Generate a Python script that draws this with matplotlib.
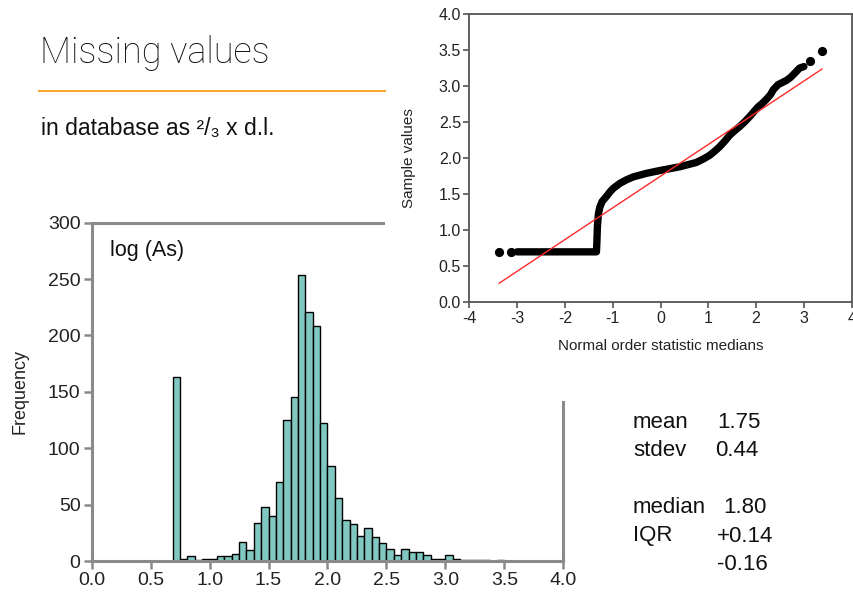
import numpy as np
import matplotlib
matplotlib.use("Agg")
import matplotlib.pyplot as plt
from matplotlib.lines import Line2D
from matplotlib.patches import Rectangle

plt.rcParams['font.family'] = ['Liberation Sans', 'DejaVu Sans']
plt.rcParams['axes.unicode_minus'] = False

# histogram of log(As): bins of 1/16 starting at 0.6875
bin_start = 0.6875
bin_width = 0.0625
counts = [163, 2, 4, 1, 2, 2, 4, 4, 6, 17, 10, 34, 48, 40, 70, 125, 145,
          254, 221, 208, 122, 84, 56, 36, 33, 22, 29, 21, 16, 11, 5, 11,
          8, 8, 5, 2, 2, 5, 2, 1, 1, 1, 1, 0, 1]
hist_xticks = [0.0, 0.5, 1.0, 1.5, 2.0, 2.5, 3.0, 3.5, 4.0]
hist_yticks = [0, 50, 100, 150, 200, 250, 300]

# normal QQ plot
qq_band_x = [-3.0, -1.34, -1.33, -1.32, -1.30, -1.27, -1.22, -1.13, -1.06,
             -0.99, -0.85, -0.71, -0.57, -0.29, 0.0, 0.4, 0.75, 0.9, 1.03,
             1.14, 1.24, 1.35, 1.45, 1.55, 1.66, 1.77, 1.87, 1.96, 2.04,
             2.13, 2.22, 2.3, 2.36, 2.46, 2.55, 2.64, 2.72, 2.81, 2.91, 3.0]
qq_band_y = [0.70, 0.70, 0.85, 1.05, 1.22, 1.32, 1.40, 1.47, 1.53,
             1.58, 1.65, 1.70, 1.74, 1.79, 1.83, 1.88, 1.94, 1.99, 2.04,
             2.10, 2.16, 2.24, 2.32, 2.38, 2.44, 2.51, 2.58, 2.65, 2.71,
             2.76, 2.82, 2.88, 2.95, 3.02, 3.05, 3.08, 3.12, 3.18, 3.25, 3.27]
qq_tail_x = [-3.375, -3.12, 3.12, 3.38]
qq_tail_y = [0.70, 0.70, 3.35, 3.48]
qq_xticks = [-4, -3, -2, -1, 0, 1, 2, 3, 4]
qq_yticks = [0.0, 0.5, 1.0, 1.5, 2.0, 2.5, 3.0, 3.5, 4.0]

mean_val = 1.75
stdev_val = 0.44
stat_labels = ['mean', 'stdev', 'median', 'IQR', '']
stat_values = ['1.75', '0.44', '1.80', '+0.14', '-0.16']

W, H = 854, 592
fig = plt.figure(figsize=(W / 100, H / 100), dpi=100)


def box(left, top, right, bottom):
    """pixel box -> figure fraction rect"""
    return [left / W, 1 - bottom / H, (right - left) / W, (bottom - top) / H]


def px(x, y):
    return x / W, 1 - y / H


# title block
fig.text(*px(40, 63), 'Missing values', fontsize=26, family=['Roboto', 'Liberation Sans'],
         fontweight='light', va='baseline', color='#111111')
fig.add_artist(Line2D([39 / W, 385 / W], [1 - 91 / H] * 2, color='#f5a623', lw=1.4))
fig.text(*px(41, 135), 'in database as \u00b2/\u2083 x d.l.', fontsize=16.5,
         va='baseline', color='#111111')

# histogram
ax = fig.add_axes(box(91.7, 222.7, 563.3, 561))
edges = bin_start + bin_width * np.arange(len(counts))
ax.bar(edges, counts, width=bin_width, align='edge', color='#80c8c1',
       edgecolor='black', linewidth=1.0, zorder=2)
ax.set_xlim(0, 4)
ax.set_ylim(0, 300)
ax.set_xticks(hist_xticks)
ax.set_xticklabels([f'{t:.1f}' for t in hist_xticks])
ax.set_yticks(hist_yticks)
for s in ax.spines.values():
    s.set_color('#8a8a8a')
    s.set_linewidth(2.2)
ax.tick_params(direction='out', length=6, width=1.8, color='#8a8a8a',
               labelsize=14, labelcolor='#222222', pad=2)
ax.set_ylabel('Frequency', fontsize=13, color='#222222')
ax.yaxis.set_label_coords(-0.134, 0.5)
ax.text((110 - 91.7) / 471.6, (561 - 256) / 338.3, 'log (As)',
        transform=ax.transAxes, fontsize=15.5, va='baseline', color='#111111')

# white panel that the QQ plot sits on
fig.add_artist(Rectangle((385 / W, 1 - 401 / H), (W - 385) / W, 401 / H,
                         transform=fig.transFigure, facecolor='white',
                         edgecolor='none', zorder=1))

# QQ plot
qx = fig.add_axes(box(469.3, 14, 851.7, 302.3), zorder=2)
qx.plot(qq_band_x, qq_band_y, color='black', lw=5.3,
        solid_capstyle='round', solid_joinstyle='round', zorder=2)
qx.plot(qq_tail_x, qq_tail_y, 'o', color='black', ms=5.6, zorder=2)
line_x = np.array([min(qq_tail_x), max(qq_tail_x)])
qx.plot(line_x, mean_val + stdev_val * line_x, color='#ff2a2a', lw=1.0, zorder=3)
qx.set_xlim(-4, 4)
qx.set_ylim(0, 4)
qx.set_xticks(qq_xticks)
qx.set_yticks(qq_yticks)
qx.set_yticklabels([f'{t:.1f}' for t in qq_yticks])
for s in qx.spines.values():
    s.set_color('#555555')
    s.set_linewidth(1.3)
qx.tick_params(direction='out', length=4.5, width=1.2, color='#555555',
               labelsize=11.5, labelcolor='#222222', pad=1.5)
qx.set_xlabel('Normal order statistic medians', fontsize=11, color='#222222')
qx.xaxis.set_label_coords(0.5, -0.127)
qx.set_ylabel('Sample values', fontsize=11, color='#222222')
qx.yaxis.set_label_coords(-0.139, 0.5)

# summary statistics
stat_rows_y = [428, 456.5, 513, 541.5, 569.5]
value_x = [717, 715, 723, 717, 717]
for lab, val, y, vx in zip(stat_labels, stat_values, stat_rows_y, value_x):
    fig.text(*px(633, y), lab, fontsize=16, va='baseline', color='#111111')
    fig.text(*px(vx, y), val, fontsize=16, va='baseline', color='#111111')

fig.savefig('out.png', dpi=100)
